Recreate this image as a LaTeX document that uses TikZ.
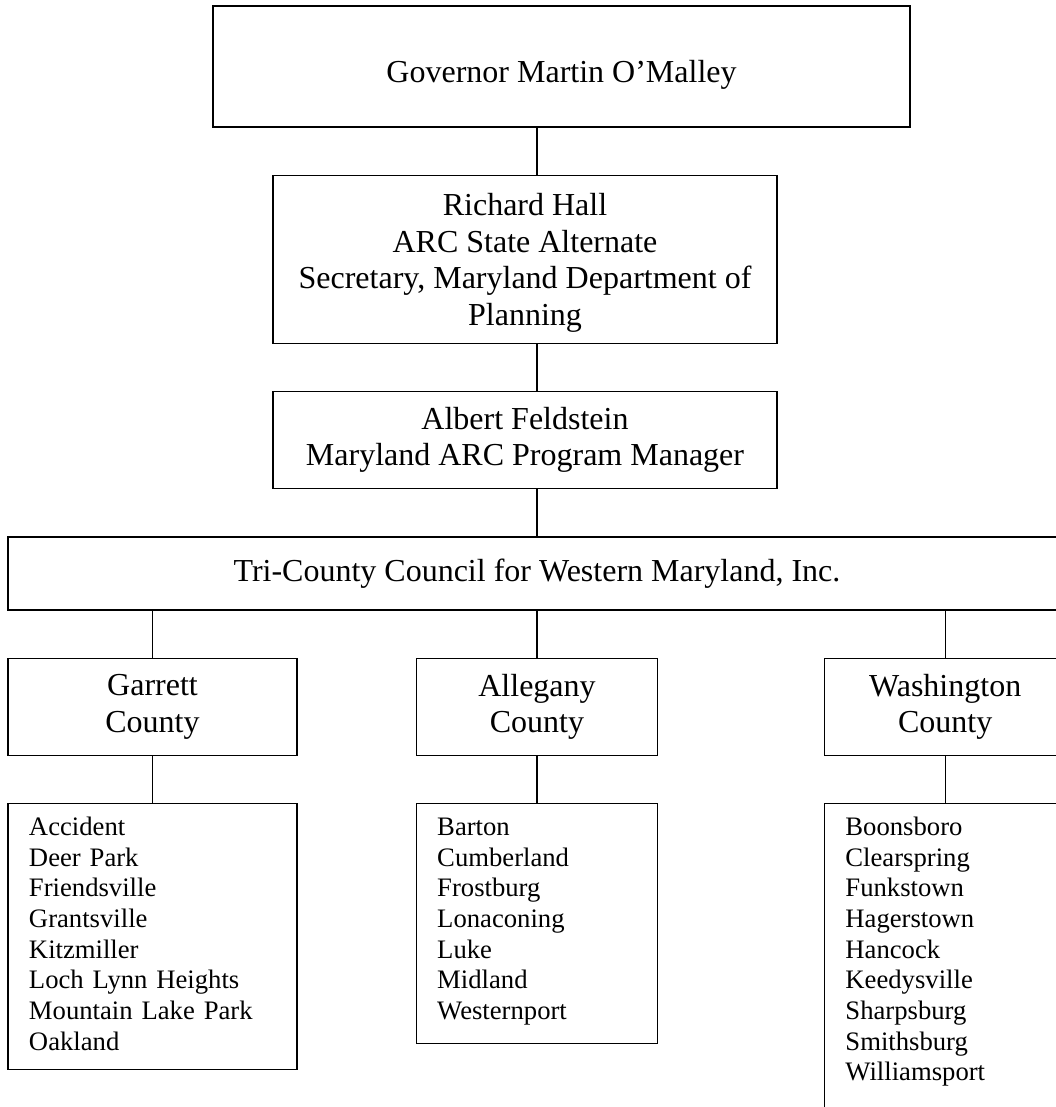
\documentclass[tikz,border=0pt]{standalone}
\usepackage{fontspec}
\setmainfont{Liberation Serif}
\usetikzlibrary{positioning}
\tikzstyle{headbox} = [rectangle, align=center, draw=black, line width=0.6pt, font=\fontsize{14.4}{16.4}\selectfont]
\tikzstyle{countybox} = [rectangle, align=center, minimum height=43.65pt, draw=black, line width=0.6pt, font=\fontsize{14.4}{16.4}\selectfont]
\tikzstyle{listbox} = [rectangle, align=left, inner xsep=9.45pt, inner ysep=6.4pt, text height=8pt, draw=black, line width=0.6pt, font=\fontsize{12}{13.8}\selectfont]
\tikzstyle{link} = [line width=0.6pt]

\begin{document}
\begin{tikzpicture}[node distance=21.15pt]
\useasboundingbox (0,0) rectangle (475.2pt,-498.15pt);
\clip (0,0) rectangle (475.2pt,-498.15pt);

\node [headbox, minimum width=313.65pt, minimum height=54.45pt, text height=18pt] (gov) at (252.7pt,-29.9pt) {Governor Martin O’Malley};
\node [headbox, minimum width=226.8pt, minimum height=75.6pt, text depth=0pt, below=of gov, xshift=-16.45pt] (hall) {Richard Hall\\ARC State Alternate\\Secretary, Maryland Department of\\Planning};
\node [headbox, minimum width=226.8pt, minimum height=43.65pt, below=of hall] (feldstein) {Albert Feldstein\\Maryland ARC Program Manager};
\node [headbox, minimum width=476.1pt, minimum height=32.85pt, below=of feldstein, xshift=5.4pt] (council) {Tri-County Council for Western Maryland, Inc.};

\node [countybox, minimum width=130.05pt, below=of council.south west, anchor=north west] (garrett) {Garrett\\County};
\node [countybox, minimum width=108.7pt, below=of council] (allegany) {Allegany\\County};
\node [countybox, minimum width=108.7pt, below=of council.south east, anchor=north east] (washington) {Washington\\County};

\node [listbox, text width=111.15pt, text depth=98.75pt, below=of garrett] (garrett-list) {Accident\\Deer Park\\Friendsville\\Grantsville\\Kitzmiller\\Loch Lynn Heights\\Mountain Lake Park\\Oakland};
\node [listbox, text width=89.8pt, text depth=87.2pt, below=of allegany] (allegany-list) {Barton\\Cumberland\\Frostburg\\Lonaconing\\Luke\\Midland\\Westernport};
\node [listbox, text width=89.8pt, text depth=140pt, below=of washington] (washington-list) {Boonsboro\\Clearspring\\Funkstown\\Hagerstown\\Hancock\\Keedysville\\Sharpsburg\\Smithsburg\\Williamsport};

\draw [link] (gov.south -| council) -- (hall.north -| council);
\draw [link] (hall.south -| council) -- (feldstein.north -| council);
\draw [link] (feldstein.south -| council) -- (council.north);
\draw [link] (council.south -| garrett) -- (garrett.north);
\draw [link] (council.south -| allegany) -- (allegany.north);
\draw [link] (council.south -| washington) -- (washington.north);
\draw [link] (garrett.south) -- (garrett-list.north);
\draw [link] (allegany.south) -- (allegany-list.north);
\draw [link] (washington.south) -- (washington-list.north);

\end{tikzpicture}
\end{document}
